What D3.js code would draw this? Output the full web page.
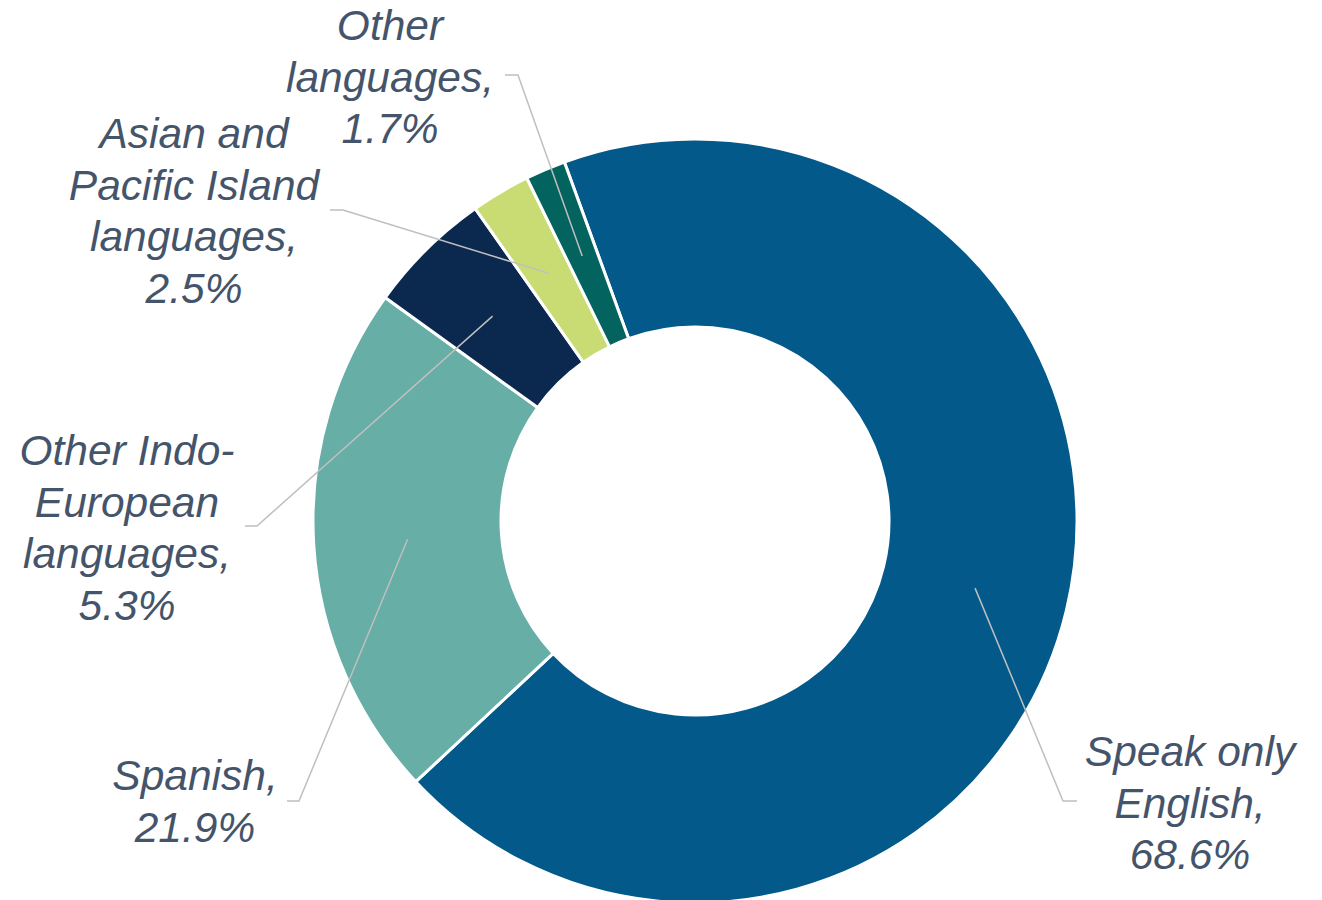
<!DOCTYPE html>
<html>
<head>
<meta charset="utf-8">
<script src="https://cdn.jsdelivr.net/npm/d3@7"></script>
<style>
html,body{margin:0;padding:0;background:#fff;}
svg{display:block;}
</style>
</head>
<body>
<svg id="chart" width="1322" height="900"></svg>
<script>
// Data
const categories = ["Speak only English", "Spanish", "Other Indo-European languages", "Asian and Pacific Island languages", "Other languages"];
const values = [68.6, 21.9, 5.3, 2.5, 1.7];
const labelLines = [
  ["Speak only", "English,", "68.6%"],
  ["Spanish,", "21.9%"],
  ["Other Indo-", "European", "languages,", "5.3%"],
  ["Asian and", "Pacific Island", "languages,", "2.5%"],
  ["Other", "languages,", "1.7%"]
];
const colors = ["#03598A", "#66AEA6", "#0B294F", "#C9DC73", "#03635F"];

// Layout (positions, not data)
const cx = 695, cy = 521, outerR = 382, innerR = 194;
const startDeg = -20;
const labelPos = [
  {x: 1190, y: 766, hx1: 1063, hx2: 1077, hy: 801},
  {x: 195,  y: 790, hx1: 299,  hx2: 287,  hy: 801},
  {x: 127,  y: 465, hx1: 257,  hx2: 245,  hy: 526},
  {x: 194,  y: 148, hx1: 343,  hx2: 330,  hy: 210},
  {x: 390,  y: 40,  hx1: 518,  hx2: 505,  hy: 75}
];
const lineH = 51.5;

const svg = d3.select("#chart");
const g = svg.append("g").attr("transform", `translate(${cx},${cy})`);

const start = startDeg * Math.PI / 180;
const pie = d3.pie().sort(null).value(d => d).startAngle(start).endAngle(start + 2 * Math.PI);
const arcs = pie(values);
const arc = d3.arc().innerRadius(innerR).outerRadius(outerR);

g.selectAll("path.slice").data(arcs).join("path")
  .attr("class", "slice")
  .attr("d", arc)
  .attr("fill", (d, i) => colors[i])
  .attr("stroke", "#fff")
  .attr("stroke-width", 3)
  .attr("stroke-linejoin", "miter");

// Leader lines
const leaders = svg.append("g");
arcs.forEach((d, i) => {
  const c = arc.centroid(d);
  const p = labelPos[i];
  leaders.append("polyline")
    .attr("points", `${cx + c[0]},${cy + c[1]} ${p.hx1},${p.hy} ${p.hx2},${p.hy}`)
    .attr("fill", "none")
    .attr("stroke", "#BFBFBF")
    .attr("stroke-width", 1.5);
});

// Labels
const labels = svg.append("g")
  .attr("font-family", "'Liberation Sans', Arial, Helvetica, sans-serif")
  .attr("font-style", "italic")
  .attr("font-size", 42.5)
  .attr("fill", "#44546A")
  .attr("text-anchor", "middle");

labelLines.forEach((lines, i) => {
  const p = labelPos[i];
  const t = labels.append("text");
  lines.forEach((ln, k) => {
    t.append("tspan").attr("x", p.x).attr("y", p.y + k * lineH).text(ln);
  });
});
</script>
</body>
</html>
